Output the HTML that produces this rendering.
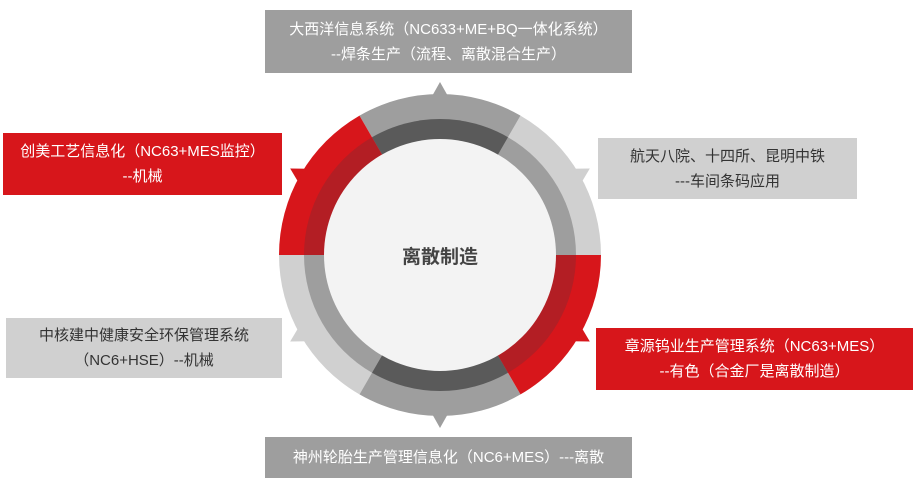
<!DOCTYPE html>
<html><head><meta charset="utf-8"><style>
body{margin:0;background:#fff;width:921px;height:487px;overflow:hidden;font-family:"Liberation Sans","Noto Sans CJK SC",sans-serif;}
.b{position:absolute;display:flex;flex-direction:column;justify-content:center;align-items:center;font-size:15px;line-height:25px;text-align:center;white-space:nowrap}
</style></head><body>
<svg width="921" height="487" style="position:absolute;left:0;top:0">
<g>
<polygon points="440,82 431,98 449,98" fill="#9e9e9e"/>
<polygon points="440,82 431,98 449,98" fill="#d0d0d0" transform="rotate(60 440 255)"/>
<polygon points="440,82 431,98 449,98" fill="#d7161b" transform="rotate(120 440 255)"/>
<polygon points="440,82 431,98 449,98" fill="#9e9e9e" transform="rotate(180 440 255)"/>
<polygon points="440,82 431,98 449,98" fill="#d0d0d0" transform="rotate(240 440 255)"/>
<polygon points="440,82 431,98 449,98" fill="#d7161b" transform="rotate(300 440 255)"/>
</g>
<path d="M440,255 L601,255 A161,161 0 0 0 520.5,115.6 Z" fill="#d0d0d0"/>
<path d="M440,255 L520.5,115.6 A161,161 0 0 0 359.5,115.6 Z" fill="#9e9e9e"/>
<path d="M440,255 L359.5,115.6 A161,161 0 0 0 279,255 Z" fill="#d7161b"/>
<path d="M440,255 L279,255 A161,161 0 0 0 359.5,394.4 Z" fill="#d0d0d0"/>
<path d="M440,255 L359.5,394.4 A161,161 0 0 0 520.5,394.4 Z" fill="#9e9e9e"/>
<path d="M440,255 L520.5,394.4 A161,161 0 0 0 601,255 Z" fill="#d7161b"/>
<path d="M440,255 L576,255 A136,136 0 0 0 508,137.2 Z" fill="#9e9e9e"/>
<path d="M440,255 L508,137.2 A136,136 0 0 0 372,137.2 Z" fill="#5a5a5a"/>
<path d="M440,255 L372,137.2 A136,136 0 0 0 304,255 Z" fill="#b31e24"/>
<path d="M440,255 L304,255 A136,136 0 0 0 372,372.8 Z" fill="#9e9e9e"/>
<path d="M440,255 L372,372.8 A136,136 0 0 0 508,372.8 Z" fill="#5a5a5a"/>
<path d="M440,255 L508,372.8 A136,136 0 0 0 576,255 Z" fill="#b31e24"/>
<circle cx="440" cy="255" r="116" fill="#f3f3f3"/>
<text x="440" y="263" text-anchor="middle" font-size="19" font-weight="bold" fill="#444" font-family="Liberation Sans,Noto Sans CJK SC,sans-serif">离散制造</text>
</svg>
<div class="b" style="left:265px;top:10px;width:367px;height:63px;background:#9e9e9e;color:#fff">大西洋信息系统（NC633+ME+BQ一体化系统）<br>--焊条生产（流程、离散混合生产）</div>
<div class="b" style="left:3px;top:133px;width:279px;height:62px;background:#d7161b;color:#fff">创美工艺信息化（NC63+MES监控）<br>--机械</div>
<div class="b" style="left:598px;top:138px;width:259px;height:61px;background:#d0d0d0;color:#333">航天八院、十四所、昆明中铁<br>---车间条码应用</div>
<div class="b" style="left:6px;top:318px;width:276px;height:60px;background:#d0d0d0;color:#333">中核建中健康安全环保管理系统<br>（NC6+HSE）--机械</div>
<div class="b" style="left:596px;top:328px;width:317px;height:62px;background:#d7161b;color:#fff">章源钨业生产管理系统（NC63+MES）<br>--有色（合金厂是离散制造）</div>
<div class="b" style="left:265px;top:437px;width:367px;height:41px;background:#9e9e9e;color:#fff">神州轮胎生产管理信息化（NC6+MES）---离散</div>
</body></html>
